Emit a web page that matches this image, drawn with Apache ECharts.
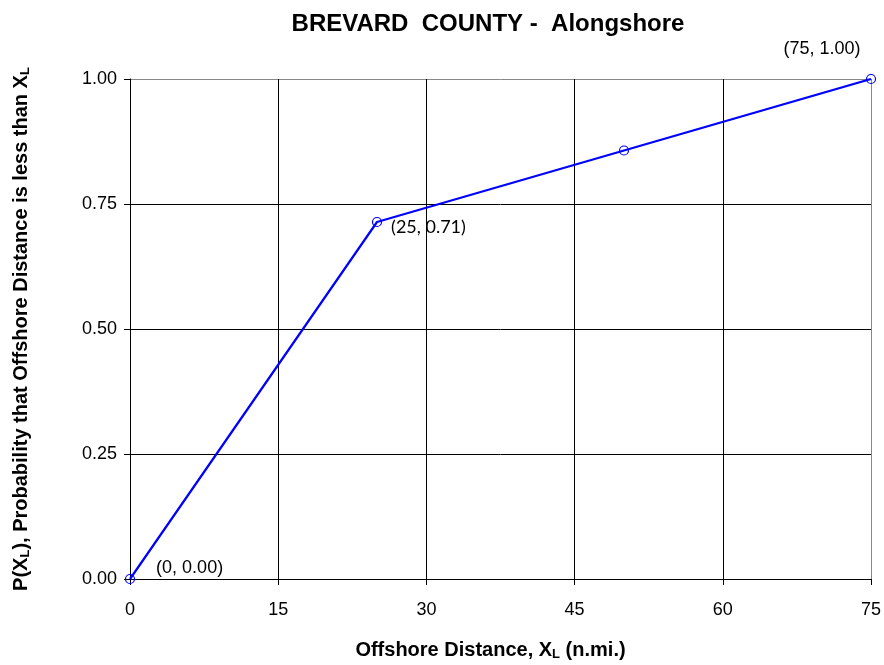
<!DOCTYPE html>
<html>
<head>
<meta charset="utf-8">
<script src="https://cdn.jsdelivr.net/npm/echarts@6/dist/echarts.min.js"></script>
<style>
  html, body { margin: 0; padding: 0; background: #fff; }
  #main { width: 884px; height: 665px; }
</style>
</head>
<body>
<div id="main"></div>
<script>
// 数据
var distance = [0, 25, 50, 75];
var probability = [0.00, 0.714, 0.857, 1.00];
var pointLabels = ['(0, 0.00)', '(25, 0.71)', '', '(75, 1.00)'];

var myChart = echarts.init(document.getElementById('main'));

// 标签位置
var labelPos = [
    { position: 'right', offset: [16, -11], font: 'Liberation Sans' },
    { position: 'right', offset: [4, 5], font: 'Lato' },
    { position: 'right', offset: [0, 0], font: 'Lato' },
    { position: 'top', offset: [-49, -11], font: 'Liberation Sans' }
];

var seriesData = distance.map(function (x, i) {
    return {
        value: [x, probability[i]],
        label: {
            show: pointLabels[i] !== '',
            formatter: pointLabels[i],
            position: labelPos[i].position,
            offset: labelPos[i].offset,
            fontFamily: labelPos[i].font
        }
    };
});

var nameRich = {
    b: { fontFamily: 'Liberation Sans', fontWeight: 'bold', fontSize: 20, color: '#000', lineHeight: 22 },
    s: { fontFamily: 'Liberation Sans', fontWeight: 'bold', fontSize: 13, color: '#000', verticalAlign: 'bottom', lineHeight: 13, padding: [11, 0, 0, 0] }
};

var option = {
    animation: false,
    backgroundColor: '#fff',
    title: {
        text: 'BREVARD  COUNTY -  Alongshore',
        left: 483,
        top: 7,
        textAlign: 'center',
        textStyle: {
            fontFamily: 'Liberation Sans',
            fontWeight: 'bold',
            fontSize: 24,
            color: '#000'
        }
    },
    grid: {
        left: 130,
        right: 13,
        top: 79,
        bottom: 86,
        outerBoundsMode: 'none'
    },
    xAxis: {
        type: 'value',
        min: 0,
        max: 75,
        interval: 15,
        name: '{b|Offshore Distance, X}{s|L}{b| (n.mi.)}',
        nameLocation: 'middle',
        nameGap: 60,
        nameTextStyle: { rich: nameRich, padding: [0, 20, 0, 0] },
        axisLine: { show: true, lineStyle: { color: '#000', width: 1 } },
        axisTick: { show: true, inside: false, length: 6, lineStyle: { color: '#000' } },
        axisLabel: { fontFamily: 'Liberation Sans', fontSize: 18, color: '#000', margin: 22 },
        splitLine: {
            show: true,
            lineStyle: { color: ['#000', '#000', '#000', '#000', '#000', '#888'], width: 1 }
        }
    },
    yAxis: {
        type: 'value',
        min: 0,
        max: 1,
        interval: 0.25,
        name: '{b|P(X}{s|L}{b|), Probability that Offshore Distance is less than X}{s|L}',
        nameLocation: 'middle',
        nameRotate: 90,
        nameGap: 98,
        nameTextStyle: { rich: nameRich },
        axisLine: { show: true, lineStyle: { color: '#000', width: 1 } },
        axisTick: { show: true, inside: false, length: 6, lineStyle: { color: '#000' } },
        axisLabel: {
            fontFamily: 'Liberation Sans',
            fontSize: 18,
            color: '#000',
            margin: 13,
            formatter: function (v) { return v.toFixed(2); }
        },
        splitLine: {
            show: true,
            lineStyle: { color: ['#000', '#000', '#000', '#000', '#888'], width: 1 }
        }
    },
    series: [{
        type: 'line',
        data: seriesData,
        symbol: 'circle',
        symbolSize: 9,
        lineStyle: { color: '#0000ff', width: 2.2 },
        itemStyle: { color: 'rgba(0,0,0,0)', borderColor: '#0000ff', borderWidth: 1.2 },
        label: {
            fontSize: 18,
            color: '#000'
        }
    }]
};

myChart.setOption(option);
</script>
</body>
</html>
